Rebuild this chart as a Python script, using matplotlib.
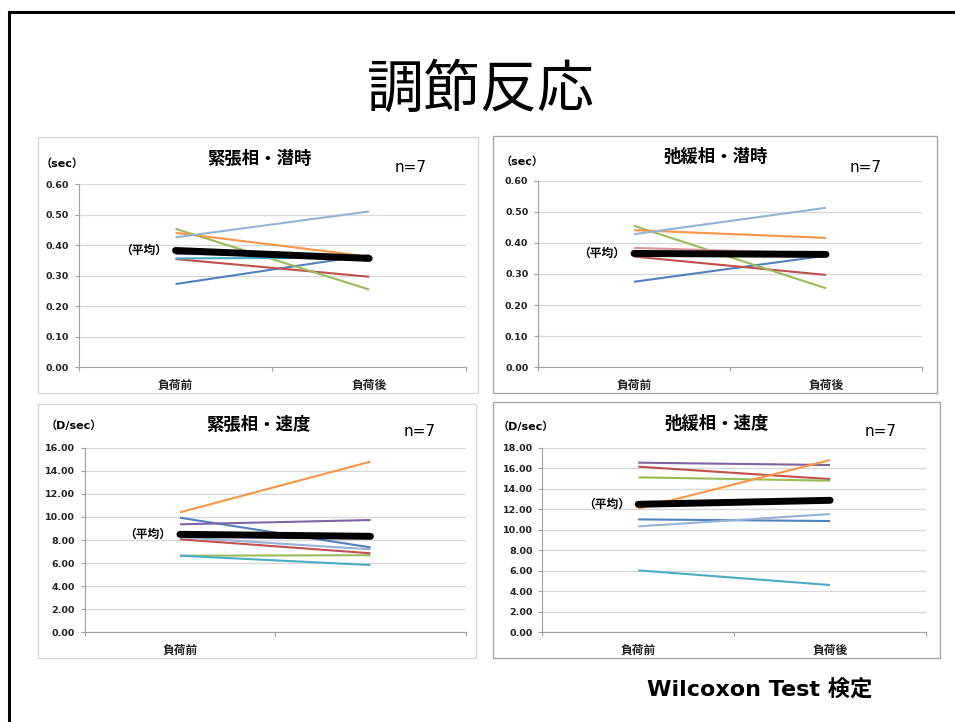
import matplotlib
matplotlib.use("Agg")
import matplotlib.pyplot as plt
from matplotlib.lines import Line2D
from matplotlib.patches import Rectangle

plt.rcParams['font.family'] = ['DejaVu Sans', 'Noto Sans CJK JP']
JP = ['Noto Sans CJK JP', 'DejaVu Sans']
LATIN = ['DejaVu Sans', 'Noto Sans CJK JP']

W, H = 955, 722

cats = ["負荷前", "負荷後"]

# series colours (Excel order)
colors = ['#4F81BD', '#C0504D', '#9BBB59', '#8064A2', '#4BACC6', '#F79646', '#95B3D7']
colors_rel_lat = ['#4F81BD', '#C0504D', '#9BBB59', '#D99694', '#4BACC6', '#F79646', '#95B3D7']

# 緊張相・潜時 (sec)
lat_ten_pre = [0.273, 0.355, 0.454, 0.372, 0.357, 0.441, 0.426]
lat_ten_post = [0.368, 0.297, 0.255, 0.363, 0.360, 0.363, 0.511]
lat_ten_mean = [0.383, 0.357]

# 弛緩相・潜時 (sec)
lat_rel_pre = [0.275, 0.356, 0.455, 0.384, 0.359, 0.441, 0.428]
lat_rel_post = [0.359, 0.297, 0.254, 0.366, 0.359, 0.416, 0.513]
lat_rel_mean = [0.366, 0.363]

# 緊張相・速度 (D/sec)
vel_ten_pre = [9.93, 8.06, 6.64, 9.36, 6.64, 10.40, 8.24]
vel_ten_post = [7.36, 6.85, 6.68, 9.73, 5.83, 14.79, 7.19]
vel_ten_mean = [8.49, 8.32]

# 弛緩相・速度 (D/sec)
vel_rel_pre = [11.01, 16.15, 15.11, 16.54, 6.04, 12.05, 10.33]
vel_rel_post = [10.85, 14.94, 14.78, 16.31, 4.61, 16.80, 11.53]
vel_rel_mean = [12.48, 12.87]

fig = plt.figure(figsize=(W / 100, H / 100), dpi=100)


def fx(px):
    return px / W


def fy(py):
    return 1 - py / H


# slide border
fig.add_artist(Line2D([fx(9), 1], [fy(12), fy(12)], color='black', lw=2.2))
fig.add_artist(Line2D([fx(9), fx(9)], [0, fy(12)], color='black', lw=2.2))

fig.text(fx(481), fy(90), "調節反応", family=JP, fontsize=41,
         ha='center', va='center')
fig.text(fx(760), fy(690), "Wilcoxon Test 検定", family=LATIN, fontsize=16,
         fontweight='bold', ha='center', va='center')


def panel(frame, box, title, title_xy, unit, unit_xy, n_xy, pre, post, mean,
          cols, ymax, ystep, fmt, labels, frame_col):
    x0, y0, x1, y1 = frame
    fig.add_artist(Rectangle((fx(x0), fy(y1)), fx(x1 - x0), (y1 - y0) / H,
                             fill=False, edgecolor=frame_col, lw=1.0))
    l, t, r, b = box
    ax = fig.add_axes([fx(l), fy(b), fx(r - l), (b - t) / H])
    for i in range(len(pre)):
        ax.plot([0, 1], [pre[i], post[i]], color=cols[i], lw=1.5,
                solid_capstyle='butt')
    ax.plot([0, 1], mean, color='black', lw=5, solid_capstyle='round')
    ax.annotate("（平均）", xy=(0, mean[0]), xytext=(-6, 0),
                textcoords='offset points', ha='right', va='center',
                family=JP, fontsize=8.5, fontweight='bold')

    ax.set_xlim(-0.5, 1.5)
    ax.set_ylim(0, ymax)
    yt = [k * ystep for k in range(int(round(ymax / ystep)) + 1)]
    ax.set_yticks(yt)
    ax.set_yticklabels([fmt % v for v in yt], fontsize=6.8, fontweight='bold',
                       color='#222222')
    ax.set_xticks([-0.5, 0.5, 1.5])
    ax.set_xticklabels([])
    ax.set_xticks([0, 1], minor=True)
    ax.set_xticklabels(labels, minor=True, family=JP, fontsize=8.5,
                       fontweight='bold', color='#222222')
    ax.tick_params(axis='x', which='minor', length=0, pad=8)
    ax.tick_params(axis='both', which='major', length=3, color='#A0A0A0',
                   width=0.8)
    ax.tick_params(axis='y', pad=4)
    ax.grid(axis='y', color='#D9D9D9', lw=1.0)
    ax.set_axisbelow(True)
    for s in ['top', 'right']:
        ax.spines[s].set_visible(False)
    for s in ['left', 'bottom']:
        ax.spines[s].set_color('#A0A0A0')
        ax.spines[s].set_linewidth(0.8)

    fig.text(fx(title_xy[0]), fy(title_xy[1]), title, family=JP, fontsize=12.5,
             fontweight='bold', ha='center', va='center')
    fig.text(fx(unit_xy[0]), fy(unit_xy[1]), unit, family=LATIN, fontsize=8,
             fontweight='bold', ha='left', va='center')
    fig.text(fx(n_xy[0]), fy(n_xy[1]), "n=7", fontsize=11,
             ha='center', va='center')
    return ax


panel((38, 137, 478, 393), (78.7, 184.3, 466, 367.3), "緊張相・潜時", (259, 159),
      "（sec）", (41, 164), (411, 168), lat_ten_pre, lat_ten_post, lat_ten_mean,
      colors, 0.6, 0.1, "%.2f", cats, '#D9D9D9')

panel((493, 136, 937, 393), (538, 180.7, 922, 367.3), "弛緩相・潜時", (716, 157),
      "（sec）", (501, 162), (866, 167), lat_rel_pre, lat_rel_post, lat_rel_mean,
      colors_rel_lat, 0.6, 0.1, "%.2f", cats, '#A6A6A6')

panel((38, 404, 476, 658), (84.7, 447.7, 465.7, 632.3), "緊張相・速度", (258, 425),
      "（D/sec）", (46, 426), (420, 432), vel_ten_pre, vel_ten_post, vel_ten_mean,
      colors, 16, 2, "%.2f", [cats[0], ""], '#D9D9D9')

panel((493, 402, 940, 658), (542.3, 447.7, 926, 632.3), "弛緩相・速度", (717, 424),
      "（D/sec）", (498, 427), (881, 432), vel_rel_pre, vel_rel_post, vel_rel_mean,
      colors, 18, 2, "%.2f", cats, '#A6A6A6')

fig.savefig("out.png", dpi=100)
